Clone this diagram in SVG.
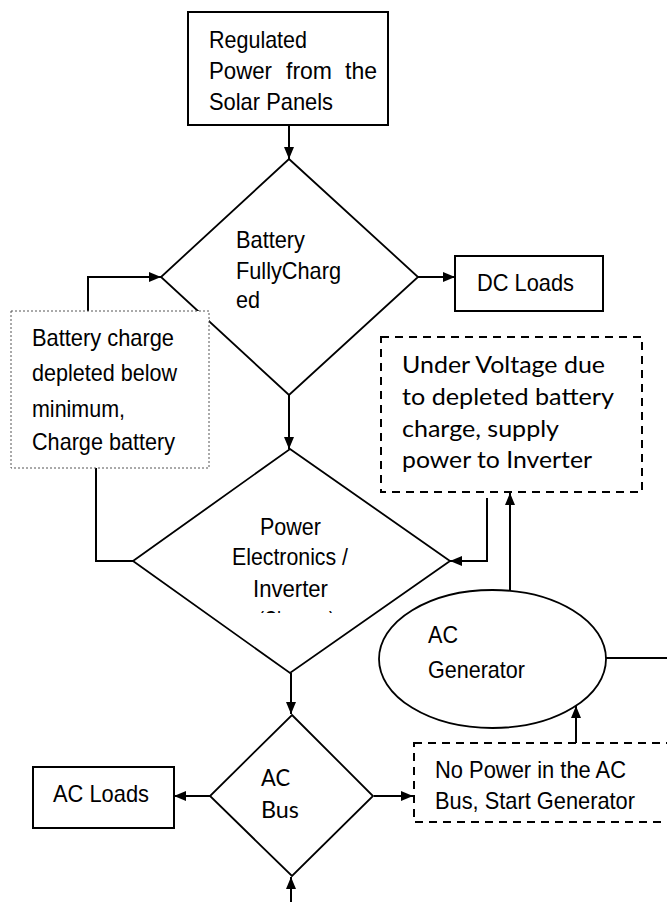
<svg xmlns="http://www.w3.org/2000/svg" width="667" height="902" viewBox="0 0 667 902">
<style>
.box{fill:#fff;stroke:#000;stroke-width:2}
.dashed{fill:#fff;stroke:#000;stroke-width:2;stroke-dasharray:8 6}
.dotted{fill:#fff;stroke:#555;stroke-width:1;stroke-dasharray:2 2}
.shape{fill:#fff;stroke:#000;stroke-width:1.8}
.conn{fill:none;stroke:#000;stroke-width:2}
.a{font-family:"Liberation Sans",Arial,sans-serif;font-size:24px;fill:#000}
.c{font-family:Lato,"Open Sans",sans-serif;font-size:23px;fill:#000}
</style>
<defs>
<marker id="arr" viewBox="0 0 12 10" refX="12" refY="5" markerWidth="12" markerHeight="11" markerUnits="userSpaceOnUse" orient="auto">
<path d="M0,0 L12,5 L0,10 z" fill="#000"/>
</marker>
<clipPath id="clipCharger"><rect x="200" y="590" width="200" height="23"/></clipPath>
</defs>
<rect width="667" height="902" fill="#fff"/>

<g id="connectors">
<path class="conn" d="M289,125 V159" marker-end="url(#arr)"/>
<path class="conn" d="M88,311 V277 H161" marker-end="url(#arr)"/>
<path class="conn" d="M418,277 H455" marker-end="url(#arr)"/>
<path class="conn" d="M289,395 V449" marker-end="url(#arr)"/>
<path class="conn" d="M96,468 V561 H133"/>
<path class="conn" d="M487,498 V561 H450" marker-end="url(#arr)"/>
<path class="conn" d="M510,591 V493" marker-end="url(#arr)"/>
<path class="conn" d="M606,658 H667"/>
<path class="conn" d="M576,743 V706" marker-end="url(#arr)"/>
<path class="conn" d="M291,673 V714" marker-end="url(#arr)"/>
<path class="conn" d="M210,796 H174" marker-end="url(#arr)"/>
<path class="conn" d="M374,796 H413" marker-end="url(#arr)"/>
<path class="conn" d="M291,902 V877" marker-end="url(#arr)"/>
</g>

<g id="solar">
<rect class="box" x="188" y="12" width="200" height="113"/>
<text class="a" x="209" y="48" textLength="98" lengthAdjust="spacingAndGlyphs">Regulated</text>
<text class="a" y="79"><tspan x="209" textLength="63" lengthAdjust="spacingAndGlyphs">Power</tspan><tspan x="286" textLength="46" lengthAdjust="spacingAndGlyphs">from</tspan><tspan x="345" textLength="32" lengthAdjust="spacingAndGlyphs">the</tspan></text>
<text class="a" x="209" y="110" textLength="124" lengthAdjust="spacingAndGlyphs">Solar Panels</text>
</g>

<g id="battery-full">
<polygon class="shape" points="289,159 418,277 289,395 161,277"/>
<text class="a" x="236" y="248" textLength="69" lengthAdjust="spacingAndGlyphs">Battery</text>
<text class="a" x="236" y="279" textLength="105" lengthAdjust="spacingAndGlyphs">FullyCharg</text>
<text class="a" x="236" y="308" textLength="24" lengthAdjust="spacingAndGlyphs">ed</text>
</g>

<g id="dc-loads">
<rect class="box" x="455" y="256" width="148" height="55"/>
<text class="a" x="477" y="291" textLength="97" lengthAdjust="spacingAndGlyphs">DC Loads</text>
</g>

<g id="charge-battery">
<rect class="dotted" x="11" y="311" width="198" height="157"/>
<text class="a" x="32" y="346" textLength="142" lengthAdjust="spacingAndGlyphs">Battery charge</text>
<text class="a" x="32" y="381" textLength="145" lengthAdjust="spacingAndGlyphs">depleted below</text>
<text class="a" x="32" y="417" textLength="93" lengthAdjust="spacingAndGlyphs">minimum,</text>
<text class="a" x="32" y="450" textLength="143" lengthAdjust="spacingAndGlyphs">Charge battery</text>
</g>

<g id="under-voltage">
<rect class="dashed" x="381" y="337" width="261" height="155"/>
<text class="c" x="402" y="373" textLength="203" lengthAdjust="spacingAndGlyphs">Under Voltage due</text>
<text class="c" x="402" y="405" textLength="212" lengthAdjust="spacingAndGlyphs">to depleted battery</text>
<text class="c" x="402" y="437" textLength="157" lengthAdjust="spacingAndGlyphs">charge, supply</text>
<text class="c" x="402" y="468" textLength="190" lengthAdjust="spacingAndGlyphs">power to Inverter</text>
</g>

<g id="inverter">
<polygon class="shape" points="290,449 450,561 290,673 133,561"/>
<text class="a" x="260" y="535" textLength="61" lengthAdjust="spacingAndGlyphs">Power</text>
<text class="a" x="232" y="565" textLength="116" lengthAdjust="spacingAndGlyphs">Electronics /</text>
<text class="a" x="253" y="597" textLength="75" lengthAdjust="spacingAndGlyphs">Inverter</text>
<text class="a" x="258" y="628" textLength="77" lengthAdjust="spacingAndGlyphs" clip-path="url(#clipCharger)">(Charger)</text>
</g>

<g id="ac-generator">
<ellipse class="shape" cx="492.5" cy="659" rx="113.5" ry="69"/>
<text class="a" x="428" y="643" textLength="30" lengthAdjust="spacingAndGlyphs">AC</text>
<text class="a" x="428" y="678" textLength="97" lengthAdjust="spacingAndGlyphs">Generator</text>
</g>

<g id="no-power">
<rect class="dashed" x="414" y="743" width="280" height="79"/>
<text class="a" x="435" y="778" textLength="191" lengthAdjust="spacingAndGlyphs">No Power in the AC</text>
<text class="a" x="435" y="809" textLength="200" lengthAdjust="spacingAndGlyphs">Bus, Start Generator</text>
</g>

<g id="ac-bus">
<polygon class="shape" points="292,715 373,796 292,876 210,796"/>
<text class="c" x="261" y="786" textLength="29" lengthAdjust="spacingAndGlyphs">AC</text>
<text class="c" x="261" y="818" textLength="38" lengthAdjust="spacingAndGlyphs">Bus</text>
</g>

<g id="ac-loads">
<rect class="box" x="33" y="767" width="141" height="61"/>
<text class="a" x="53" y="802" textLength="96" lengthAdjust="spacingAndGlyphs">AC Loads</text>
</g>
</svg>
